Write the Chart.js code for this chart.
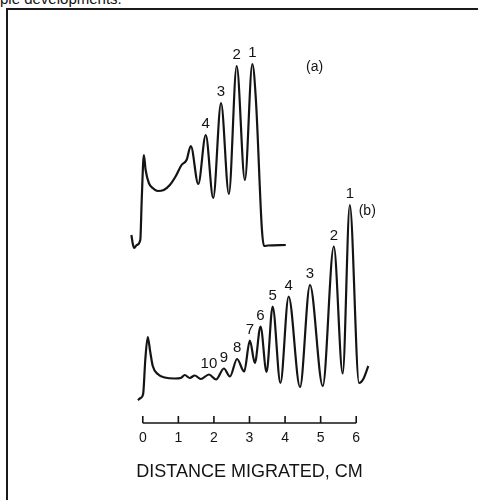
<!DOCTYPE html>
<html>
<head>
<meta charset="utf-8">
<script src="https://cdn.jsdelivr.net/npm/chart.js@4"></script>
<style>
  html, body { margin: 0; padding: 0; background: #fff; }
  #wrap { position: relative; width: 478px; height: 500px; overflow: hidden; }
  #frame { position: absolute; left: 6px; top: 8px; width: 480px; height: 500px;
           border-left: 2px solid #1a1a1a; border-top: 2px solid #1a1a1a; }
  #cut { position: absolute; left: 0; top: -9px; font: 15px 'Liberation Sans', sans-serif;
         color: #111; line-height: 15px; white-space: nowrap; }
  canvas { position: absolute; left: 0; top: 0; }
</style>
</head>
<body>
<div id="wrap">
  <div id="cut">ple developments.</div>
  <div id="frame"></div>
  <canvas id="chart" width="478" height="500"></canvas>
</div>
<script>
// trace (a): distance (cm) and detector response (arbitrary height)
const distA = [-0.32, -0.28, -0.24, -0.17, -0.07, -0.03, 0.03, 0.08, 0.17, 0.28, 0.42, 0.59, 0.76, 0.93,
    1.09, 1.23, 1.35, 1.56, 1.77, 1.98, 2.20, 2.42, 2.64, 2.87, 3.08, 3.18, 3.35, 3.41, 3.52, 4.02];
const respA = [188, 179, 175, 178, 183, 223, 268, 253, 240, 235, 232, 233, 238, 247,
    258, 263, 277, 239, 288, 225, 320, 229, 357, 243, 359, 323, 193, 177, 177.5, 178];

// trace (b)
const distB = [-0.14, -0.06, 0.01, 0.07, 0.14, 0.21, 0.28, 0.42, 0.62, 0.90, 1.07, 1.18, 1.32, 1.46, 1.63,
    1.86, 2.06, 2.28, 2.45, 2.65, 2.85, 3.01, 3.15, 3.31, 3.48, 3.65, 3.87, 4.10, 4.42, 4.70,
    5.06, 5.37, 5.62, 5.82, 6.08, 6.20, 6.34];
const respB = [23, 25, 29, 63, 86, 71, 57, 49, 45.5, 44.5, 45, 48, 45, 47.5, 44,
    48.5, 43.5, 54.5, 46.5, 64, 51.5, 82.5, 60, 96.5, 51, 116.5, 40, 126.5, 36, 138,
    37, 176.5, 49.5, 218, 40, 44, 57];

// numbered peaks
const peakLabelsA = ['1', '2', '3', '4'];
const peakDistA = [3.08, 2.64, 2.20, 1.77];
const peakRespA = [359, 357, 320, 288];
const peakLabelsB = ['1', '2', '3', '4', '5', '6', '7', '8', '9', '10'];
const peakDistB = [5.82, 5.37, 4.70, 4.10, 3.65, 3.31, 3.01, 2.65, 2.28, 1.86];
const peakRespB = [218, 176.5, 138, 126.5, 116.5, 96.5, 82.5, 64, 54.5, 48.5];

// panel tags
const tagText = ['(a)', '(b)'];
const tagDist = [4.83, 6.31];
const tagResp = [355.5, 212];

const tickValues = [0, 1, 2, 3, 4, 5, 6];

const ink = '#141414';

function toPoints(xs, ys) {
    return xs.map((x, i) => ({ x: x, y: ys[i] }));
}

const annotate = {
    id: 'annotate',
    afterDatasetsDraw(chart) {
        const ctx = chart.ctx;
        const xs = chart.scales.x, ys = chart.scales.y;
        ctx.save();
        ctx.fillStyle = ink;
        ctx.textAlign = 'center';
        ctx.textBaseline = 'middle';
        ctx.font = '15px "Liberation Sans", sans-serif';
        peakLabelsA.forEach((t, i) => {
            ctx.fillText(t, xs.getPixelForValue(peakDistA[i]), ys.getPixelForValue(peakRespA[i]) - 11);
        });
        peakLabelsB.forEach((t, i) => {
            ctx.fillText(t, xs.getPixelForValue(peakDistB[i]), ys.getPixelForValue(peakRespB[i]) - 11);
        });
        ctx.font = '14px "Liberation Sans", sans-serif';
        tagText.forEach((t, i) => {
            ctx.fillText(t, xs.getPixelForValue(tagDist[i]), ys.getPixelForValue(tagResp[i]));
        });

        // distance bar with upward ticks
        const y0 = ys.getPixelForValue(0);
        ctx.strokeStyle = ink;
        ctx.lineWidth = 1.6;
        ctx.beginPath();
        ctx.moveTo(xs.getPixelForValue(tickValues[0]), y0);
        ctx.lineTo(xs.getPixelForValue(tickValues[tickValues.length - 1]), y0);
        tickValues.forEach(v => {
            const px = xs.getPixelForValue(v);
            ctx.moveTo(px, y0);
            ctx.lineTo(px, y0 - 7);
        });
        ctx.stroke();
        ctx.restore();
    }
};

const lineStyle = {
    borderColor: ink,
    borderWidth: 2.2,
    pointRadius: 0,
    showLine: true,
    fill: false,
    cubicInterpolationMode: 'monotone'
};

const ctx = document.getElementById('chart').getContext('2d');
const chart = new Chart(ctx, {
    type: 'scatter',
    data: {
        datasets: [
            Object.assign({ label: '(a)', data: toPoints(distA, respA) }, lineStyle),
            Object.assign({ label: '(b)', data: toPoints(distB, respB) }, lineStyle)
        ]
    },
    options: {
        responsive: false,
        animation: false,
        layout: { padding: { left: 125, right: 104, top: 3, bottom: 0 } },
        plugins: { legend: { display: false }, tooltip: { enabled: false } },
        scales: {
            x: {
                type: 'linear',
                min: -0.5,
                max: 6.5,
                grid: { display: false, drawTicks: false },
                border: { display: false },
                afterBuildTicks: s => { s.ticks = tickValues.map(v => ({ value: v })); },
                afterFit: s => { s.height = 77; },
                ticks: {
                    color: ink,
                    padding: 7,
                    maxRotation: 0,
                    font: { family: 'Liberation Sans', size: 14 }
                },
                title: {
                    display: true,
                    text: 'DISTANCE MIGRATED, CM',
                    color: ink,
                    align: 'center',
                    padding: { top: 10, bottom: 17 },
                    font: { family: 'Liberation Sans', size: 18 }
                }
            },
            y: {
                display: false,
                min: 0,
                max: 420
            }
        }
    },
    plugins: [annotate]
});
</script>
</body>
</html>
